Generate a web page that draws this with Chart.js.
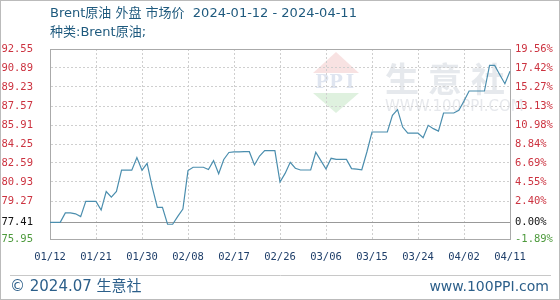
<!DOCTYPE html>
<html>
<head>
<meta charset="utf-8">
<script src="https://cdn.jsdelivr.net/npm/chart.js@4.4.1/dist/chart.umd.min.js"></script>
<style>
    body { margin: 0; background: #fff; }
    #wrap { width: 560px; height: 300px; position: relative; }
</style>
</head>
<body>
<div id="wrap"><canvas id="chart-line" width="560" height="300"></canvas></div>
<script>
// Brent price, one value per calendar day from 2024-01-12 to 2024-04-11
const prices = [
    77.41, 77.41, 77.41, 78.23, 78.23, 78.15, 77.91, 79.24, 79.24, 79.24,
    78.48, 80.10, 79.61, 80.10, 81.96, 81.96, 81.96, 83.07, 81.96, 82.56,
    80.49, 78.72, 78.72, 77.24, 77.24, 77.93, 78.57, 81.93, 82.22, 82.22,
    82.22, 82.02, 82.80, 81.65, 82.90, 83.51, 83.57, 83.57, 83.58, 83.58,
    82.42, 83.20, 83.67, 83.67, 83.67, 80.93, 81.68, 82.65, 82.13, 81.98,
    81.98, 81.98, 83.53, 82.80, 82.07, 83.00, 82.90, 82.90, 82.90, 82.10,
    82.05, 82.00, 83.55, 85.30, 85.30, 85.30, 85.30, 86.75, 87.25, 85.73,
    85.20, 85.20, 85.20, 84.80, 85.88, 85.59, 85.38, 86.96, 86.96, 86.96,
    87.20, 88.00, 88.88, 88.88, 88.88, 88.88, 91.12, 91.12, 90.30, 89.52,
    90.60
];
const basePrice = 77.41;
const yTicks = [92.55, 90.89, 89.23, 87.57, 85.91, 84.25, 82.59, 80.93, 79.27, 77.41, 75.95];
const pctLabels = ['19.56%', '17.42%', '15.27%', '13.13%', '10.98%', '8.84%', '6.69%', '4.55%', '2.40%', '0.00%', '-1.89%'];
const xTickLabels = ['01/12', '01/21', '01/30', '02/08', '02/17', '02/26', '03/06', '03/15', '03/24', '04/02', '04/11'];
const labelStep = 9;

// category per day
const categories = [];
for (let i = 0; i < prices.length; i++) {
    const d = new Date(2024, 0, 12 + i);
    categories.push(String(d.getMonth() + 1).padStart(2, '0') + '/' + String(d.getDate()).padStart(2, '0'));
}

const monoFont = "'DejaVu Sans Mono', monospace";
const textFont = "'DejaVu Sans', 'Noto Sans CJK SC', sans-serif";
const red = '#cc3340';
const green = '#4d9a3c';

function tickColor(v) {
    if (Math.abs(v - basePrice) < 0.001) return '#111';
    return v > basePrice ? red : green;
}

const decor = {
    id: 'decor',
    beforeDraw(chart) {
        const ctx = chart.ctx;
        ctx.save();
        ctx.fillStyle = '#fff';
        ctx.fillRect(0, 0, chart.width, chart.height);
        // watermark logo
        ctx.fillStyle = 'rgba(232,160,160,0.3)';
        ctx.beginPath(); ctx.moveTo(336, 52); ctx.lineTo(359, 73); ctx.lineTo(313, 73); ctx.closePath(); ctx.fill();
        ctx.fillStyle = 'rgba(150,210,150,0.3)';
        ctx.beginPath(); ctx.moveTo(313, 93); ctx.lineTo(359, 93); ctx.lineTo(336, 113); ctx.closePath(); ctx.fill();
        ctx.fillStyle = 'rgba(150,170,205,0.3)';
        ctx.font = "bold 18px 'DejaVu Serif', serif";
        ctx.textAlign = 'center';
        ctx.textBaseline = 'middle';
        ['P', 'P', 'I'].forEach((c, i) => ctx.fillText(c, 322 + i * 14, 83));
        ctx.fillStyle = 'rgba(195,202,212,0.42)';
        ctx.font = "bold 34px 'Noto Sans CJK SC', sans-serif";
        ctx.textAlign = 'left';
        ['生', '意', '社'].forEach((c, i) => ctx.fillText(c, 385 + i * 43, 79));
        ctx.font = "15px 'DejaVu Sans', sans-serif";
        ctx.fillStyle = 'rgba(195,200,210,0.42)';
        ctx.fillText('WWW.100PPI.COM', 385, 107);
        ctx.restore();
    },
    beforeDatasetsDraw(chart) {
        const ctx = chart.ctx;
        const a = chart.chartArea;
        const y = chart.scales.y.getPixelForValue(basePrice);
        ctx.save();
        ctx.strokeStyle = '#aaa';
        ctx.lineWidth = 1;
        ctx.strokeRect(Math.round(a.left) + 0.5, Math.round(a.top) + 0.5, Math.round(a.right - a.left), Math.round(a.bottom - a.top));
        ctx.strokeStyle = '#999';
        ctx.beginPath();
        ctx.moveTo(a.left, Math.round(y) + 0.5);
        ctx.lineTo(a.right, Math.round(y) + 0.5);
        ctx.stroke();
        ctx.restore();
    },
    afterDraw(chart) {
        const ctx = chart.ctx;
        ctx.save();
        ctx.textBaseline = 'middle';
        ctx.textAlign = 'left';
        ctx.fillStyle = '#1f5a7e';
        ctx.font = '13px ' + textFont;
        ctx.fillText('Brent原油 外盘 市场价  2024-01-12 - 2024-04-11', 50, 14);
        ctx.fillText('种类:Brent原油;', 50, 33);
        // footer
        ctx.strokeStyle = '#c8c8c8';
        ctx.beginPath(); ctx.moveTo(10, 275.5); ctx.lineTo(551, 275.5); ctx.stroke();
        ctx.fillStyle = '#2c5f8a';
        ctx.font = '15px ' + textFont;
        ctx.fillText('© 2024.07 生意社', 10, 287);
        ctx.textAlign = 'right';
        ctx.font = '14px ' + textFont;
        ctx.fillText('www.100PPI.com', 549, 287);
        // frame
        ctx.strokeStyle = '#bbb';
        ctx.strokeRect(0.5, 0.5, chart.width - 1, chart.height - 1);
        ctx.restore();
    }
};

const chartData = {
    labels: categories,
    datasets: [{
        data: prices,
        borderColor: '#4b8eae',
        borderWidth: 1.2,
        pointRadius: 0,
        tension: 0,
        fill: false
    }]
};

const yTickOpts = (right) => ({
    autoSkip: false,
    padding: right ? 5 : 17,
    font: { family: monoFont, size: 10.5 },
    color: ctx => tickColor(ctx.tick.value),
    callback: (v, i) => right ? pctLabels[i] : v.toFixed(2)
});

const options = {
    responsive: false,
    animation: false,
    layout: { padding: { top: 49, bottom: 39, left: 0, right: 0 } },
    plugins: { legend: { display: false }, tooltip: { enabled: false } },
    scales: {
        x: {
            type: 'category',
            offset: false,
            afterFit: s => { s.height = 22; },
            grid: {
                drawTicks: false,
                color: ctx => (ctx.index % labelStep === 0 && ctx.index > 0 && ctx.index < prices.length - 1) ? '#cfcfcf' : 'transparent'
            },
            border: { display: true, color: '#999', dash: [2, 2] },
            ticks: {
                autoSkip: false,
                maxRotation: 0,
                padding: 12,
                color: '#1f3f6a',
                font: { family: monoFont, size: 10.5 },
                callback: (v, i) => i % labelStep === 0 ? xTickLabels[i / labelStep] : ''
            }
        },
        y: {
            position: 'left',
            min: 75.95,
            max: 92.55,
            afterFit: s => { s.width = 50; },
            afterBuildTicks: s => { s.ticks = yTicks.map(v => ({ value: v })); },
            grid: {
                drawTicks: false,
                color: ctx => (ctx.tick && (ctx.tick.value === basePrice || ctx.tick.value === 92.55 || ctx.tick.value === 75.95)) ? 'transparent' : '#cfcfcf'
            },
            border: { display: true, color: '#999', dash: [2, 2] },
            ticks: yTickOpts(false)
        },
        y2: {
            position: 'right',
            min: 75.95,
            max: 92.55,
            afterFit: s => { s.width = 50; },
            afterBuildTicks: s => { s.ticks = yTicks.map(v => ({ value: v })); },
            grid: { display: false, drawTicks: false },
            border: { display: true, color: '#999' },
            ticks: yTickOpts(true)
        }
    }
};

const ctx = document.getElementById('chart-line').getContext('2d');
new Chart(ctx, {
    type: 'line',
    data: chartData,
    options: options,
    plugins: [decor]
});
</script>
</body>
</html>
